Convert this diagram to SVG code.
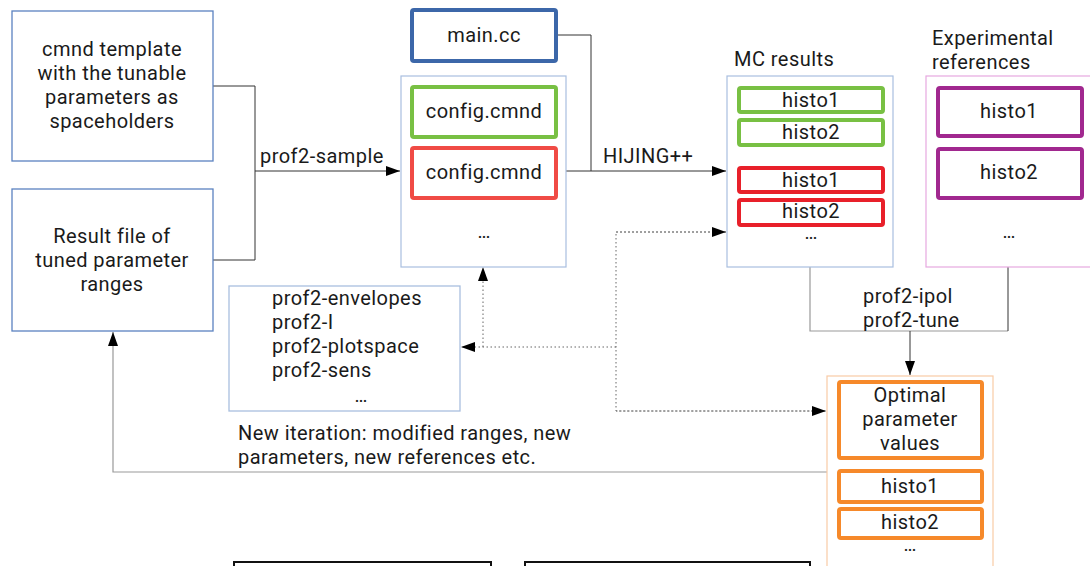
<svg xmlns="http://www.w3.org/2000/svg" width="1090" height="566" viewBox="0 0 1090 566">
<defs>
<style>
text{font-family:Roboto,"Open Sans","DejaVu Sans",sans-serif;font-size:20px;letter-spacing:0.45px;fill:#1a1a1a}
.c{text-anchor:middle}
.d{font-size:14px;font-weight:bold;letter-spacing:0}
.thin{fill:#fff;stroke:#5b82c0;stroke-width:1.3}
.cont{fill:#fff;stroke:#a9bfdf;stroke-width:1.2}
.g{fill:#fff;stroke:#78c043;stroke-width:4}
.r{fill:#fff;stroke:#f04b45;stroke-width:4}
.r2{fill:#fff;stroke:#e8202a;stroke-width:4}
.p{fill:#fff;stroke:#a1288f;stroke-width:4}
.o{fill:#fff;stroke:#f6892a;stroke-width:4}
.ln{fill:none;stroke:#333;stroke-width:1}
.lg{fill:none;stroke:#999;stroke-width:1.2}
.dt{fill:none;stroke:#666;stroke-width:1;stroke-dasharray:1.5 2.5}
</style>
<marker id="ar" viewBox="0 0 14 10" refX="14" refY="5" markerWidth="14" markerHeight="10" markerUnits="userSpaceOnUse" orient="auto">
<path d="M0,0 L14,5 L0,10 z" fill="#000"/>
</marker>
</defs>
<rect width="1090" height="566" fill="#fff"/>

<g id="connectors">
<polyline class="ln" points="213,86 255,86 255,260 213,260"/>
<line class="ln" x1="255" y1="171" x2="400" y2="171" marker-end="url(#ar)"/>
<polyline class="ln" points="556,35 591,35 591,171"/>
<line class="ln" x1="566" y1="171" x2="726" y2="171" marker-end="url(#ar)"/>
<polyline class="lg" points="810,267 810,331 1008,331"/>
<line class="ln" x1="1008" y1="267" x2="1008" y2="331"/>
<line class="ln" x1="910" y1="331" x2="910" y2="375" marker-end="url(#ar)"/>
<polyline class="dt" points="726,232 616,232 616,411 826,411" />
<line class="dt" x1="616" y1="232" x2="726" y2="232" marker-end="url(#ar)"/>
<line class="dt" x1="616" y1="411" x2="826" y2="411" marker-end="url(#ar)"/>
<line class="dt" x1="616" y1="347" x2="461" y2="347" marker-end="url(#ar)"/>
<line class="dt" x1="483" y1="347" x2="483" y2="267" marker-end="url(#ar)"/>
<polyline class="lg" points="827,472 113,472 113,346"/>
<line class="lg" x1="113" y1="346" x2="113" y2="332" marker-end="url(#ar)"/>
<text x="260" y="163">prof2-sample</text>
<text x="603" y="163">HIJING++</text>
<text x="863" y="303">prof2-ipol</text>
<text x="863" y="327">prof2-tune</text>
<text x="238" y="440">New iteration: modified ranges, new</text>
<text x="238" y="464">parameters, new references etc.</text>
</g>

<g id="template">
<rect class="thin" x="12" y="11" width="201" height="150"/>
<text class="c" x="112" y="56">cmnd template</text>
<text class="c" x="112" y="80">with the tunable</text>
<text class="c" x="112" y="104">parameters as</text>
<text class="c" x="112" y="128">spaceholders</text>
</g>

<g id="resultfile">
<rect class="thin" x="12" y="189" width="201" height="142"/>
<text class="c" x="112" y="243">Result file of</text>
<text class="c" x="112" y="267">tuned parameter</text>
<text class="c" x="112" y="291">ranges</text>
</g>

<g id="maincc">
<rect x="412" y="10" width="144" height="51" rx="2" fill="#fff" stroke="#3c67a9" stroke-width="4"/>
<text class="c" x="484" y="42">main.cc</text>
</g>

<g id="configs">
<rect class="cont" x="401" y="76" width="165" height="191"/>
<rect class="g" x="412" y="87" width="144" height="50" rx="2"/>
<text class="c" x="484" y="118">config.cmnd</text>
<rect class="r" x="412" y="148" width="144" height="50" rx="2"/>
<text class="c" x="484" y="179">config.cmnd</text>
<text class="c d" x="484" y="238">...</text>
</g>

<g id="mcresults">
<text x="734" y="66">MC results</text>
<rect class="cont" x="727" y="76" width="166" height="191"/>
<rect class="g" x="739" y="88" width="144" height="24" rx="2"/>
<text class="c" x="811" y="107">histo1</text>
<rect class="g" x="739" y="120" width="144" height="25" rx="2"/>
<text class="c" x="811" y="139">histo2</text>
<rect class="r2" x="739" y="168" width="144" height="24" rx="2"/>
<text class="c" x="811" y="187">histo1</text>
<rect class="r2" x="739" y="200" width="144" height="25" rx="2"/>
<text class="c" x="811" y="218">histo2</text>
<text class="c d" x="811" y="239">...</text>
</g>

<g id="expref">
<text x="932" y="45">Experimental</text>
<text x="932" y="69">references</text>
<rect x="926" y="76" width="170" height="191" fill="#fff" stroke="#e6a8e0" stroke-width="1.2"/>
<rect class="p" x="938" y="88" width="144" height="48" rx="2"/>
<text class="c" x="1009" y="118">histo1</text>
<rect class="p" x="938" y="149" width="144" height="49" rx="2"/>
<text class="c" x="1009" y="179">histo2</text>
<text class="c d" x="1009" y="238">...</text>
</g>

<g id="prof2tools">
<rect class="thin" x="229" y="286" width="231" height="125" style="stroke:#a9bfdf"/>
<text x="272" y="305">prof2-envelopes</text>
<text x="272" y="329">prof2-I</text>
<text x="272" y="353">prof2-plotspace</text>
<text x="272" y="377">prof2-sens</text>
<text class="c d" x="361" y="402">...</text>
</g>

<g id="optimal">
<rect x="827" y="376" width="166" height="200" fill="#fff" stroke="#f9cba6" stroke-width="1.2"/>
<rect class="o" x="839" y="382" width="143" height="76" rx="2"/>
<text class="c" x="910" y="402">Optimal</text>
<text class="c" x="910" y="426">parameter</text>
<text class="c" x="910" y="450">values</text>
<rect class="o" x="839" y="471" width="143" height="31" rx="2"/>
<text class="c" x="910" y="493">histo1</text>
<rect class="o" x="839" y="509" width="143" height="29" rx="2"/>
<text class="c" x="910" y="529">histo2</text>
<text class="c d" x="910" y="551">...</text>
</g>

<g id="bottom1">
<rect x="234" y="562" width="257" height="20" fill="#fff" stroke="#111" stroke-width="2"/>
</g>
<g id="bottom2">
<rect x="525" y="562" width="285" height="20" fill="#fff" stroke="#111" stroke-width="2"/>
</g>
</svg>
